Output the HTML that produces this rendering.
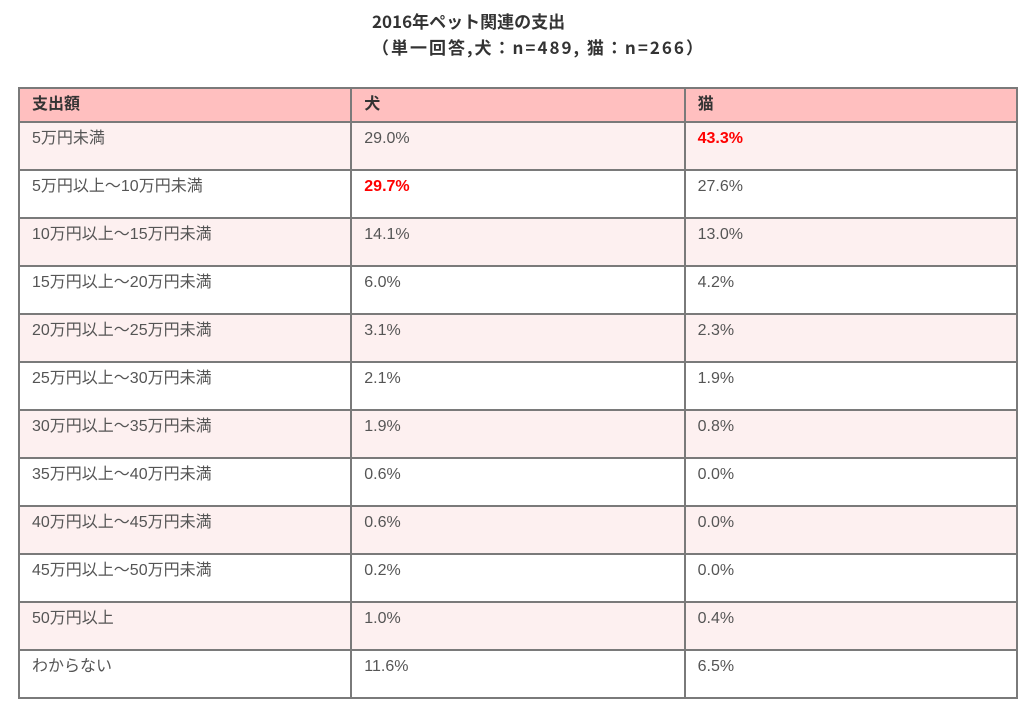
<!DOCTYPE html>
<html><head><meta charset="utf-8"><style>
body{margin:0;width:1024px;height:704px;background:#fff;position:relative;font-family:"Liberation Sans","Noto Sans CJK JP",sans-serif;overflow:hidden}
.t{position:absolute;left:372px;white-space:nowrap;font-weight:bold;font-size:17px;line-height:20px;color:#333;font-family:"Noto Sans CJK JP",sans-serif}
table{position:absolute;left:18px;top:87px;border-collapse:collapse;width:1000px}
td{border:2px solid #7a7a7a;color:#555;font-size:16px;line-height:20px;vertical-align:top;padding:6px 10px 0 12px;height:41px;box-sizing:border-box}
tr.h td{background:#ffbfbf;font-weight:bold;color:#333;height:34px;padding-top:6px}
tr.p td{background:#fdf0f0}
.r{color:#f00;font-weight:bold}
</style></head><body>
<div class="t" style="top:11px">2016年ペット関連の支出</div>
<div class="t" style="top:37px;letter-spacing:2px">（単一回答,犬：n=489, 猫：n=266）</div>
<table>
<colgroup><col style="width:333px"><col style="width:334px"><col style="width:333px"></colgroup>
<tr class="h"><td>支出額</td><td>犬</td><td>猫</td></tr>
<tr class="p" style="height:48px"><td>5万円未満</td><td>29.0%</td><td class="r">43.3%</td></tr>
<tr style="height:48px"><td>5万円以上～10万円未満</td><td class="r">29.7%</td><td>27.6%</td></tr>
<tr class="p" style="height:48px"><td>10万円以上～15万円未満</td><td>14.1%</td><td>13.0%</td></tr>
<tr style="height:48px"><td>15万円以上～20万円未満</td><td>6.0%</td><td>4.2%</td></tr>
<tr class="p" style="height:48px"><td>20万円以上～25万円未満</td><td>3.1%</td><td>2.3%</td></tr>
<tr style="height:48px"><td>25万円以上～30万円未満</td><td>2.1%</td><td>1.9%</td></tr>
<tr class="p" style="height:48px"><td>30万円以上～35万円未満</td><td>1.9%</td><td>0.8%</td></tr>
<tr style="height:48px"><td>35万円以上～40万円未満</td><td>0.6%</td><td>0.0%</td></tr>
<tr class="p" style="height:48px"><td>40万円以上～45万円未満</td><td>0.6%</td><td>0.0%</td></tr>
<tr style="height:48px"><td>45万円以上～50万円未満</td><td>0.2%</td><td>0.0%</td></tr>
<tr class="p" style="height:48px"><td>50万円以上</td><td>1.0%</td><td>0.4%</td></tr>
<tr style="height:48px"><td>わからない</td><td>11.6%</td><td>6.5%</td></tr>
</table>
</body></html>
